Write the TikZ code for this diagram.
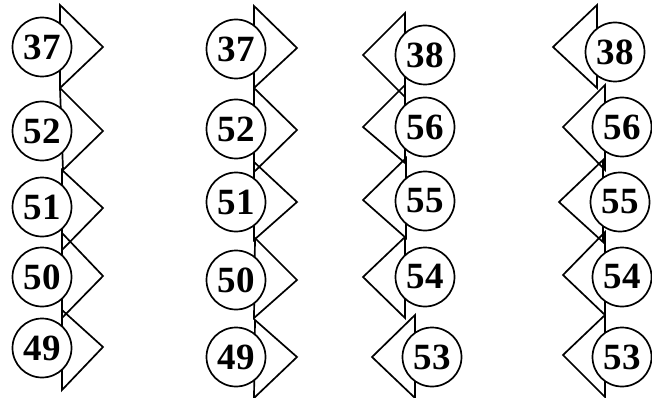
\documentclass[tikz,border=0pt]{standalone}
\usepackage{fontspec}
\setmainfont{Liberation Serif}
\begin{document}
\begin{tikzpicture}[x=1pt,y=-1pt,
  num/.style={circle,draw,fill=white,line width=1.7pt,minimum size=59pt,inner sep=0pt,
    font=\fontsize{37}{37}\selectfont\bfseries},
  tri/.style={draw,line width=1.7pt,line join=miter}]
\useasboundingbox (0,0) rectangle (652,398);
% column 1 triangles
\draw[tri] (60,5) -- (103,47) -- (60,88) -- cycle;
\draw[tri] (60,88) -- (103,131) -- (63,170) -- cycle;
\draw[tri] (62,170) -- (103,208) -- (62,250) -- cycle;
\draw[tri] (62,233) -- (103,276) -- (62,318) -- cycle;
\draw[tri] (62,310) -- (103,347) -- (62,390) -- cycle;
% column 2 triangles
\draw[tri] (254,6) -- (297,48) -- (254,88) -- cycle;
\draw[tri] (254,88) -- (297,130) -- (254,172) -- cycle;
\draw[tri] (254,162) -- (297,202) -- (254,240) -- cycle;
\draw[tri] (255,238) -- (297,280) -- (254,318) -- cycle;
\draw[tri] (255,320) -- (297,357) -- (254,398) -- cycle;
% column 3 triangles
\draw[tri] (405,13) -- (363,55) -- (405,97) -- cycle;
\draw[tri] (405,85) -- (363,127) -- (405,163) -- cycle;
\draw[tri] (406,158) -- (363,200) -- (406,238) -- cycle;
\draw[tri] (405,237) -- (363,277) -- (405,318) -- cycle;
\draw[tri] (415,315) -- (372,357) -- (415,398) -- cycle;
% column 4 triangles
\draw[tri] (597,5) -- (553,47) -- (597,88) -- cycle;
\draw[tri] (605,85) -- (563,127) -- (605,170) -- cycle;
\draw[tri] (603,160) -- (559,202) -- (603,242) -- cycle;
\draw[tri] (605,232) -- (563,275) -- (605,315) -- cycle;
\draw[tri] (605,315) -- (563,355) -- (605,397) -- cycle;
% column 1 circles
\node[num] (a1) at (42,47) {37};
\node[num] (a2) at (42,131) {52};
\node[num] (a3) at (42,207) {51};
\node[num] (a4) at (42,277) {50};
\node[num] (a5) at (42,348) {49};
% column 2 circles
\node[num] (b1) at (236,49) {37};
\node[num] (b2) at (236,129) {52};
\node[num] (b3) at (236,202) {51};
\node[num] (b4) at (236,280) {50};
\node[num] (b5) at (236,357) {49};
% column 3 circles
\node[num] (c1) at (425,55) {38};
\node[num] (c2) at (425,127) {56};
\node[num] (c3) at (425,201) {55};
\node[num] (c4) at (425,277) {54};
\node[num] (c5) at (432,357) {53};
% column 4 circles
\node[num] (d1) at (615,52) {38};
\node[num] (d2) at (622,127) {56};
\node[num] (d3) at (620,202) {55};
\node[num] (d4) at (622,277) {54};
\node[num] (d5) at (622,357) {53};
\end{tikzpicture}
\end{document}
